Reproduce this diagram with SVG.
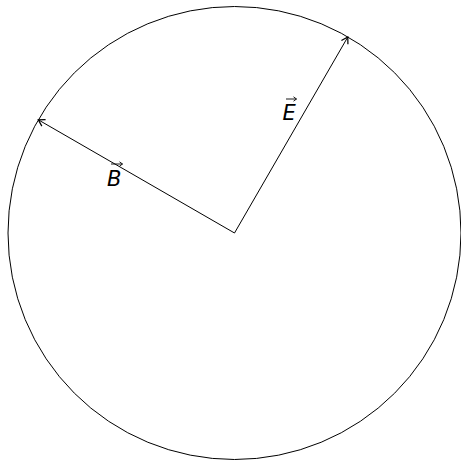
<svg xmlns="http://www.w3.org/2000/svg" width="461" height="460" viewBox="0 0 461 460">
  <style>
    .stroke { fill: none; stroke: #000; stroke-width: 1; }
    .lbl { font-family: "DejaVu Sans", sans-serif; font-style: italic; font-size: 21px; fill: #000; }
    .vec { fill: none; stroke: #000; stroke-width: 0.9; }
  </style>
  <defs>
    <marker id="tip" markerWidth="10" markerHeight="10" refX="0" refY="0" viewBox="-6 -4 7 8" orient="auto" markerUnits="userSpaceOnUse">
      <path d="M -5 -3 L 0 0 L -5 3" fill="none" stroke="#000" stroke-width="1"/>
    </marker>
    <marker id="vtip" markerWidth="6" markerHeight="6" refX="0" refY="0" viewBox="-4 -3 5 6" orient="auto" markerUnits="userSpaceOnUse">
      <path d="M -3 -2.2 L 0 0 L -3 2.2" fill="none" stroke="#000" stroke-width="0.9"/>
    </marker>
  </defs>
  <g id="circle">
    <circle class="stroke" cx="234.5" cy="233" r="226.5"/>
  </g>
  <g id="connectors">
    <line class="stroke" x1="234.5" y1="233" x2="347.8" y2="37" marker-end="url(#tip)"/>
    <line class="stroke" x1="234.5" y1="233" x2="38.3" y2="119.8" marker-end="url(#tip)"/>
  </g>
  <g id="label-E">
    <text class="lbl" x="282.5" y="120">E</text>
    <line class="vec" x1="286" y1="99" x2="296.5" y2="99" marker-end="url(#vtip)"/>
  </g>
  <g id="label-B">
    <text class="lbl" x="107" y="186">B</text>
    <line class="vec" x1="111" y1="164" x2="122.5" y2="164" marker-end="url(#vtip)"/>
  </g>
</svg>
